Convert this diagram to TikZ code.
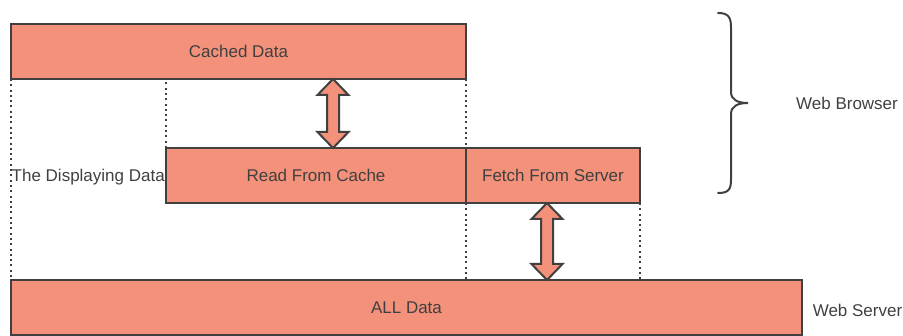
\documentclass[tikz,border=0pt]{standalone}
\usepackage{fontspec}
\setmainfont{Liberation Sans}
\usetikzlibrary{calc}

\definecolor{boxfill}{HTML}{F3917A}
\definecolor{ink}{HTML}{404040}

\tikzset{
  txt/.style={text=ink, font=\fontsize{17}{20}\selectfont, text height=12.2pt, text depth=0pt},
  databox/.style={txt, draw=ink, fill=boxfill, line width=2pt, inner sep=0pt, outer sep=0pt,
                  minimum height=55pt},
  plaintext/.style={txt, inner sep=1pt},
  guide/.style={draw=ink, line width=2pt, dash pattern=on 2pt off 3.3pt},
  blockarrow/.style={draw=ink, fill=boxfill, line width=2pt, line join=miter},
  bracestyle/.style={draw=ink, line width=2pt, line cap=round},
}

% hollow double-headed block arrow between two points (top first)
\newcommand\dblarrow[2]{%
  \path[blockarrow] let \p1=(#1), \p2=(#2) in
    (\x1,\y1) -- ++(15.5pt,-16pt) -- ++(-9.5pt,0pt) -- (\x1+6pt,\y2+16pt) -- ++(9.5pt,0pt)
    -- (\x2,\y2) -- ++(-15.5pt,16pt) -- ++(9.5pt,0pt) -- (\x1-6pt,\y1-16pt) -- ++(-9.5pt,0pt) -- cycle;}

\begin{document}
\begin{tikzpicture}[x=1pt,y=-1pt]
  \useasboundingbox (0,0) rectangle (903,336);

  % data blocks
  \node[databox, minimum width=455pt] (cache) at (238.5,51.5) {Cached Data};
  \node[databox, minimum width=300pt] (read)  at (316,175.5) {Read From Cache};
  \node[databox, minimum width=174pt] (fetch) at (553,175.5) {Fetch From Server};
  \node[databox, minimum width=791pt] (all)   at (406.5,307.5) {ALL Data};

  % dotted alignment guides
  \draw[guide] (cache.south west) -- (all.north west);
  \draw[guide] (read.north west) -- (read.north west |- cache.south);
  \draw[guide] (cache.south east) -- (read.north east);
  \draw[guide] (fetch.south west) -- (fetch.south west |- all.north);
  \draw[guide] (fetch.south east) -- (fetch.south east |- all.north);

  % data flow arrows
  \coordinate (ax1) at (333,0);
  \coordinate (ax2) at (547,0);
  \dblarrow{cache.south -| ax1}{read.north -| ax1}
  \dblarrow{fetch.south -| ax2}{all.north -| ax2}

  % labels
  \node[plaintext, anchor=east] (disp) at (read.west) {The Displaying Data};
  \node[plaintext] (browser) at (847,103) {Web Browser};
  \node[plaintext] (server) at (857.5,310) {Web Server};

  % brace grouping the browser side
  \draw[bracestyle] (718,13) .. controls (728,13) and (731,17) .. (731,27)
    -- (731,92) .. controls (731,100) and (738,103) .. (748,103)
    .. controls (738,103) and (731,106) .. (731,114)
    -- (731,180) .. controls (731,190) and (728,193) .. (718,193);
\end{tikzpicture}
\end{document}
